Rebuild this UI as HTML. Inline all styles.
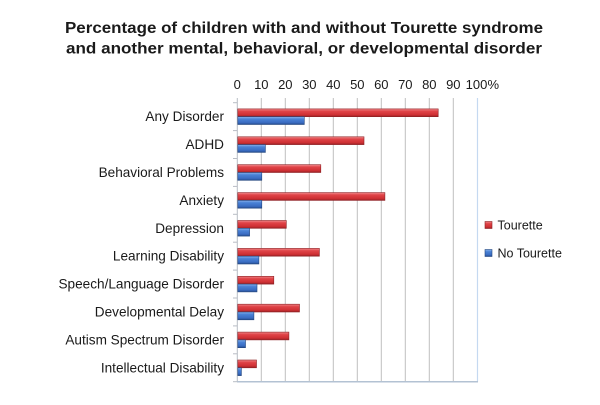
<!DOCTYPE html>
<html><head><meta charset="utf-8"><style>
html,body{margin:0;padding:0;background:#fff;}
svg{display:block;}
text{font-family:"Liberation Sans",sans-serif;fill:#1a1a1a;}
</style></head><body>
<svg width="600" height="405" viewBox="0 0 600 405" xmlns="http://www.w3.org/2000/svg">
<defs>
<linearGradient id="gr" x1="0" y1="0" x2="0" y2="1">
<stop offset="0" stop-color="#f08a8c"/><stop offset="0.3" stop-color="#e04448"/><stop offset="0.75" stop-color="#cf3034"/><stop offset="1" stop-color="#982225"/>
</linearGradient>
<linearGradient id="gb" x1="0" y1="0" x2="0" y2="1">
<stop offset="0" stop-color="#8ab4ec"/><stop offset="0.3" stop-color="#4a82d6"/><stop offset="0.75" stop-color="#3a6cc2"/><stop offset="1" stop-color="#254d8e"/>
</linearGradient>
</defs>
<text x="304" y="33" font-size="15.5" font-weight="bold" text-anchor="middle" textLength="478" lengthAdjust="spacingAndGlyphs">Percentage of children with and without Tourette syndrome</text>
<text x="304" y="53.5" font-size="15.5" font-weight="bold" text-anchor="middle" textLength="476" lengthAdjust="spacingAndGlyphs">and another mental, behavioral, or developmental disorder</text>
<g stroke="#bfbfbf" stroke-width="1">
<line x1="261.3" y1="98" x2="261.3" y2="382"/>
<line x1="285.3" y1="98" x2="285.3" y2="382"/>
<line x1="309.3" y1="98" x2="309.3" y2="382"/>
<line x1="333.3" y1="98" x2="333.3" y2="382"/>
<line x1="357.3" y1="98" x2="357.3" y2="382"/>
<line x1="381.3" y1="98" x2="381.3" y2="382"/>
<line x1="405.3" y1="98" x2="405.3" y2="382"/>
<line x1="429.3" y1="98" x2="429.3" y2="382"/>
<line x1="453.3" y1="98" x2="453.3" y2="382"/>
</g>
<line x1="477.5" y1="98" x2="477.5" y2="382" stroke="#c5d9f1" stroke-width="1.2"/>
<line x1="237.3" y1="98" x2="237.3" y2="382" stroke="#b8bcc4" stroke-width="1"/>
<line x1="237" y1="381.7" x2="478" y2="381.7" stroke="#b3c2d3" stroke-width="1.5"/>
<g stroke="#b8bcc4" stroke-width="1">
<line x1="233" y1="102.7" x2="237.3" y2="102.7"/>
<line x1="233" y1="130.6" x2="237.3" y2="130.6"/>
<line x1="233" y1="158.5" x2="237.3" y2="158.5"/>
<line x1="233" y1="186.4" x2="237.3" y2="186.4"/>
<line x1="233" y1="214.3" x2="237.3" y2="214.3"/>
<line x1="233" y1="242.2" x2="237.3" y2="242.2"/>
<line x1="233" y1="270.1" x2="237.3" y2="270.1"/>
<line x1="233" y1="298.0" x2="237.3" y2="298.0"/>
<line x1="233" y1="325.9" x2="237.3" y2="325.9"/>
<line x1="233" y1="353.8" x2="237.3" y2="353.8"/>
<line x1="233" y1="381.7" x2="237.3" y2="381.7"/>
</g>
<g font-size="13" text-anchor="middle">
<text x="237.3" y="89">0</text>
<text x="261.3" y="89">10</text>
<text x="285.3" y="89">20</text>
<text x="309.3" y="89">30</text>
<text x="333.3" y="89">40</text>
<text x="357.3" y="89">50</text>
<text x="381.3" y="89">60</text>
<text x="405.3" y="89">70</text>
<text x="429.3" y="89">80</text>
<text x="453.3" y="89">90</text>
<text x="476.5" y="89">100</text>
</g>
<text x="487.5" y="89" font-size="13">%</text>
<g font-size="13.6" text-anchor="end">
<text x="224" y="121.2">Any Disorder</text>
<text x="224" y="149.1">ADHD</text>
<text x="224" y="177.0">Behavioral Problems</text>
<text x="224" y="204.9">Anxiety</text>
<text x="224" y="232.8">Depression</text>
<text x="224" y="260.7">Learning Disability</text>
<text x="224" y="288.6">Speech/Language Disorder</text>
<text x="224" y="316.5">Developmental Delay</text>
<text x="224" y="344.4">Autism Spectrum Disorder</text>
<text x="224" y="372.3">Intellectual Disability</text>
</g>
<g stroke-width="0.6">
<rect x="237.8" y="108.9" width="200.4" height="7.8" fill="url(#gr)" stroke="#8e2023"/>
<rect x="237.8" y="116.7" width="66.5" height="7.8" fill="url(#gb)" stroke="#23467f"/>
<rect x="237.8" y="136.8" width="126.2" height="7.8" fill="url(#gr)" stroke="#8e2023"/>
<rect x="237.8" y="144.6" width="27.6" height="7.8" fill="url(#gb)" stroke="#23467f"/>
<rect x="237.8" y="164.7" width="83.0" height="7.8" fill="url(#gr)" stroke="#8e2023"/>
<rect x="237.8" y="172.5" width="24.0" height="7.8" fill="url(#gb)" stroke="#23467f"/>
<rect x="237.8" y="192.6" width="147.1" height="7.8" fill="url(#gr)" stroke="#8e2023"/>
<rect x="237.8" y="200.4" width="24.0" height="7.8" fill="url(#gb)" stroke="#23467f"/>
<rect x="237.8" y="220.5" width="48.5" height="7.8" fill="url(#gr)" stroke="#8e2023"/>
<rect x="237.8" y="228.3" width="11.8" height="7.8" fill="url(#gb)" stroke="#23467f"/>
<rect x="237.8" y="248.4" width="81.6" height="7.8" fill="url(#gr)" stroke="#8e2023"/>
<rect x="237.8" y="256.2" width="21.1" height="7.8" fill="url(#gb)" stroke="#23467f"/>
<rect x="237.8" y="276.3" width="36.0" height="7.8" fill="url(#gr)" stroke="#8e2023"/>
<rect x="237.8" y="284.1" width="19.2" height="7.8" fill="url(#gb)" stroke="#23467f"/>
<rect x="237.8" y="304.2" width="61.7" height="7.8" fill="url(#gr)" stroke="#8e2023"/>
<rect x="237.8" y="312.0" width="16.1" height="7.8" fill="url(#gb)" stroke="#23467f"/>
<rect x="237.8" y="332.1" width="51.1" height="7.8" fill="url(#gr)" stroke="#8e2023"/>
<rect x="237.8" y="339.9" width="7.7" height="7.8" fill="url(#gb)" stroke="#23467f"/>
<rect x="237.8" y="360.0" width="18.7" height="7.8" fill="url(#gr)" stroke="#8e2023"/>
<rect x="237.8" y="367.8" width="3.6" height="7.8" fill="url(#gb)" stroke="#23467f"/>
</g>
<rect x="485" y="221.5" width="7" height="7" fill="url(#gr)" stroke="#8e2023" stroke-width="0.6"/>
<text x="497.5" y="229.5" font-size="12.5">Tourette</text>
<rect x="485" y="249.5" width="7" height="7" fill="url(#gb)" stroke="#23467f" stroke-width="0.6"/>
<text x="497.5" y="257.5" font-size="12.5">No Tourette</text>
</svg>
</body></html>
